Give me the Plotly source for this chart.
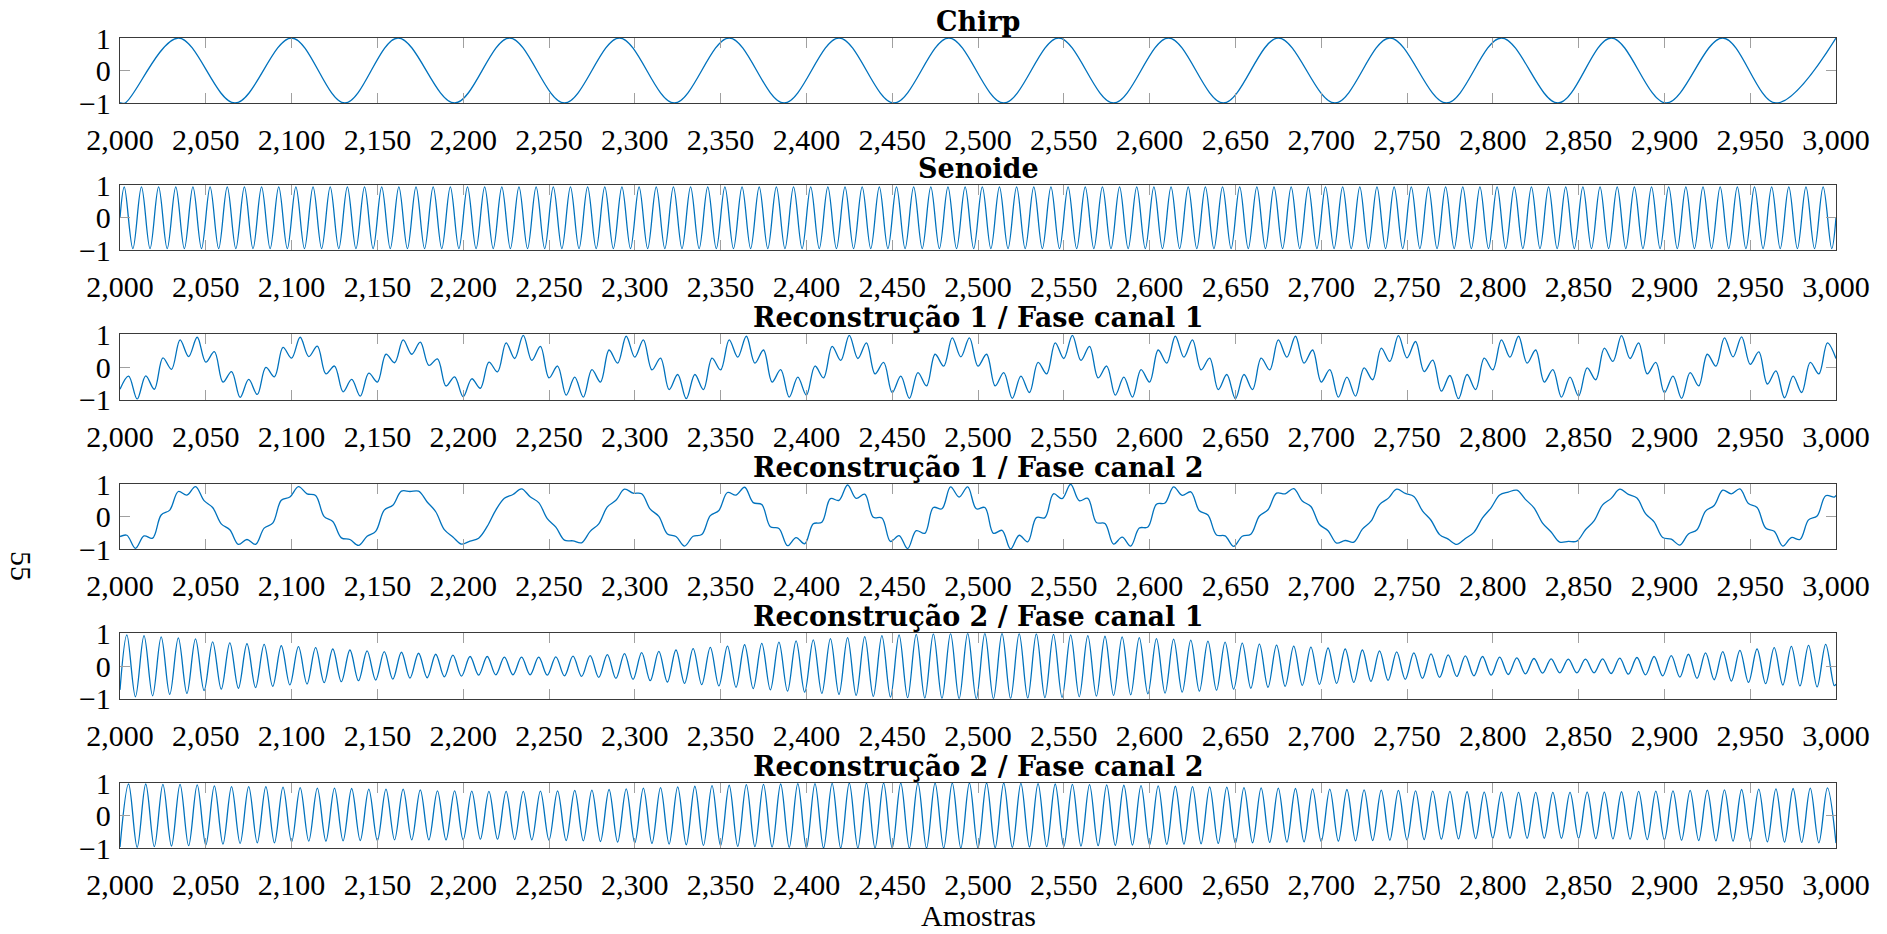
import numpy as np
import plotly.graph_objects as go

# ---------------- data (read / estimated from the picture) ----------------
titles = ["Chirp", "Senoide", "Reconstrução 1 / Fase canal 1", "Reconstrução 1 / Fase canal 2",
          "Reconstrução 2 / Fase canal 1", "Reconstrução 2 / Fase canal 2"]
x_label = "Amostras"
page_number = "55"
x_ticks = list(range(2000, 3001, 50))
y_ticks = [-1, 0, 1]

# Chirp: turning points (sample, value)
chirp_x = [2000, 2003, 2034, 2067, 2100, 2131, 2162, 2195, 2227, 2259, 2291, 2323, 2355, 2387, 2419, 2451,
           2483, 2515, 2547, 2579, 2611, 2643, 2675, 2708, 2740, 2773, 2805, 2838, 2869, 2901, 2934, 2965, 3000]
chirp_y = [-0.99, -1, 1, -1, 1, -1, 1, -1, 1, -1, 1, -1, 1, -1, 1, -1,
           1, -1, 1, -1, 1, -1, 1, -1, 1, -1, 1, -1, 1, -1, 1, -1, 1]

# Senoide: crests at 2002.5 + 10k, troughs at 2007.5 + 10k (every cycle looks identical)
senoide_start, senoide_end = 0.0, 0.0
senoide_peaks = [0.95] * 100
senoide_troughs = [-0.95] * 100

# Reconstrucao 1 / canal 1: values every 5 samples, 2000 ... 3000
rec1c1_vals = [-0.68, -0.28, -0.98, -0.27, -0.68, 0.28, -0.07, 0.83, 0.32, 0.91,
               0.15, 0.47, -0.46, -0.14, -0.93, -0.38, -0.84, -0.01, -0.30, 0.60,
               0.27, 0.91, 0.32, 0.64, -0.21, 0.03, -0.76, -0.38, -0.89, -0.19,
               -0.46, 0.39, 0.13, 0.83, 0.39, 0.76, 0.05, 0.25, -0.58, -0.30,
               -0.91, -0.36, -0.65, 0.15, -0.15,
               0.74, 0.26, 0.97, 0.20, 0.63, -0.33, 0.03, -0.86, -0.31, -0.92,
               -0.08, -0.46, 0.52, 0.12, 0.94, 0.30, 0.83, -0.09, 0.27, -0.69,
               -0.23, -0.97, -0.23, -0.69, 0.27, -0.09, 0.83, 0.30, 0.94, 0.12,
               0.52, -0.46, -0.08, -0.92, -0.31, -0.86, 0.03, -0.33, 0.63, 0.20,
               0.97, 0.26, 0.74, -0.21, 0.14, -0.78, -0.28, -0.96, -0.17, -0.58,
               0.39, 0.03, 0.89, 0.31, 0.89, 0.03, 0.39, -0.58, -0.17, -0.96,
               -0.28, -0.78, 0.14, -0.21, 0.74, 0.26, 0.97, 0.20, 0.63, -0.33,
               0.03, -0.86, -0.31, -0.92, -0.08, -0.46, 0.52, 0.12, 0.94, 0.30,
               0.83, -0.09, 0.27, -0.69, -0.23, -0.97, -0.23, -0.69, 0.27, -0.09,
               0.83, 0.30, 0.94, 0.12, 0.52, -0.46, -0.08, -0.92, -0.31, -0.89,
               -0.03, -0.39, 0.58, 0.17, 0.96, 0.28, 0.78, -0.14, 0.21, -0.74,
               -0.26, -0.97, -0.23, -0.69, 0.27, -0.09, 0.83, 0.30, 0.94, 0.12,
               0.52, -0.46, -0.08, -0.92, -0.31, -0.89, -0.03, -0.39, 0.58, 0.17,
               0.96, 0.26, 0.74, -0.21, 0.14, -0.78, -0.28, -0.96, -0.17, -0.58,
               0.39, 0.03, 0.89, 0.31, 0.92, 0.08, 0.46, -0.52, -0.12, -0.94,
               -0.28, -0.78, 0.14, -0.21, 0.74, 0.26]

# Reconstrucao 1 / canal 2: value at 2000, then every 5 samples 2004 ... 2999, then value at 3000
rec1c2_start, rec1c2_end = -0.61, 0.65
rec1c2_vals = [-0.57, -0.97, -0.59, -0.66, 0.05, 0.20, 0.77, 0.66, 0.92, 0.49,
               0.28, -0.22, -0.40, -0.85, -0.70, -0.85, -0.35, -0.20, 0.50, 0.60,
               0.92, 0.70, 0.65, 0.00, -0.15, -0.65, -0.70, -0.88, -0.60, -0.45,
               0.20, 0.35, 0.78, 0.77, 0.78, 0.45, 0.15, -0.40, -0.62, -0.84,
               -0.75, -0.66, -0.30, 0.20,
               0.56, 0.68, 0.85, 0.61, 0.43, -0.06, -0.32, -0.72, -0.74, -0.80,
               -0.45, -0.22, 0.30, 0.50, 0.84, 0.72, 0.70, 0.23, 0.01, -0.53,
               -0.61, -0.90, -0.60, -0.55, 0.03, 0.19, 0.74, 0.66, 0.90, 0.43,
               0.37, -0.31, -0.36, -0.89, -0.64, -0.83, -0.22, -0.17, 0.55, 0.50,
               0.97, 0.56, 0.69, -0.02, -0.04, -0.76, -0.58, -0.98, -0.43, -0.51,
               0.28, 0.24, 0.91, 0.60, 0.91, 0.24, 0.28, -0.51, -0.42, -0.99,
               -0.57, -0.77, -0.03, -0.03, 0.70, 0.55, 0.99, 0.49, 0.56, -0.18,
               -0.21, -0.84, -0.63, -0.90, -0.35, -0.32, 0.38, 0.42, 0.91, 0.65,
               0.76, 0.18, 0.05, -0.56, -0.59, -0.91, -0.60, -0.54, 0.02, 0.21,
               0.72, 0.70, 0.86, 0.48, 0.31, -0.24, -0.43, -0.81, -0.73, -0.78,
               -0.38, -0.14, 0.37, 0.56, 0.84, 0.71, 0.62, 0.18, -0.11, -0.55,
               -0.69, -0.85, -0.67, -0.48, -0.04, 0.27, 0.66, 0.75, 0.81, 0.53,
               0.27, -0.20, -0.47, -0.78, -0.76, -0.75, -0.40, -0.13, 0.36, 0.56,
               0.84, 0.68, 0.57, 0.09, -0.16, -0.64, -0.69, -0.87, -0.53, -0.40,
               0.17, 0.34, 0.81, 0.70, 0.85, 0.40, 0.28, -0.35, -0.45, -0.90,
               -0.64, -0.70, -0.10, 0.02, 0.64, 0.60]

# Reconstrucao 2 / canal 1: crests at 2004 + 10k, troughs at 2009 + 10k
rec2c1_start, rec2c1_end = -0.73, -0.55
rec2c1_peaks = [0.95, 0.93, 0.89, 0.86, 0.83, 0.74, 0.71, 0.68, 0.66, 0.62,
                0.59, 0.56, 0.52, 0.49, 0.46, 0.44, 0.42, 0.39, 0.36, 0.33,
                0.29, 0.29, 0.27, 0.27, 0.27, 0.28, 0.30, 0.32, 0.35, 0.38,
                0.41, 0.45, 0.49, 0.53, 0.57, 0.61, 0.65, 0.69, 0.73, 0.77,
                0.80, 0.84, 0.87, 0.90, 0.93, 0.95, 0.97, 0.98, 0.99, 1.00,
                1.00, 1.00, 0.99, 0.98, 0.97, 0.95, 0.93, 0.91, 0.89, 0.87,
                0.84, 0.82, 0.79, 0.76, 0.73, 0.70, 0.67, 0.64, 0.61, 0.58,
                0.55, 0.52, 0.49, 0.46, 0.43, 0.40, 0.37, 0.34, 0.31, 0.29,
                0.27, 0.25, 0.23, 0.22, 0.21, 0.21, 0.22, 0.24, 0.26, 0.29,
                0.32, 0.36, 0.40, 0.44, 0.48, 0.52, 0.56, 0.60, 0.63, 0.66]
rec2c1_troughs = [-0.94, -0.91, -0.87, -0.84, -0.75, -0.71, -0.68, -0.66, -0.62, -0.58,
                  -0.55, -0.51, -0.48, -0.45, -0.43, -0.40, -0.37, -0.36, -0.33, -0.31,
                  -0.28, -0.27, -0.27, -0.27, -0.28, -0.30, -0.32, -0.35, -0.38, -0.41,
                  -0.45, -0.49, -0.53, -0.57, -0.61, -0.65, -0.69, -0.73, -0.77, -0.80,
                  -0.84, -0.87, -0.90, -0.93, -0.95, -0.97, -0.98, -0.99, -1.00, -1.00,
                  -1.00, -0.99, -0.98, -0.97, -0.96, -0.94, -0.92, -0.90, -0.88, -0.85,
                  -0.83, -0.80, -0.77, -0.74, -0.71, -0.68, -0.65, -0.62, -0.59, -0.56,
                  -0.53, -0.50, -0.47, -0.44, -0.41, -0.38, -0.35, -0.32, -0.30, -0.28,
                  -0.26, -0.24, -0.22, -0.21, -0.21, -0.21, -0.23, -0.25, -0.27, -0.30,
                  -0.34, -0.38, -0.42, -0.46, -0.50, -0.54, -0.58, -0.61, -0.64, -0.60]

# Reconstrucao 2 / canal 2: value at 2000, crests at 2005 + 10k, troughs at 2010 + 10k
rec2c2_start = -0.97
rec2c2_peaks = [0.97, 0.97, 0.96, 0.96, 0.94, 0.91, 0.89, 0.89, 0.89, 0.87,
                0.86, 0.84, 0.84, 0.83, 0.81, 0.81, 0.81, 0.79, 0.76, 0.76,
                0.75, 0.74, 0.74, 0.74, 0.75, 0.76, 0.77, 0.78, 0.80, 0.82,
                0.84, 0.86, 0.88, 0.90, 0.92, 0.93, 0.95, 0.96, 0.97, 0.98,
                0.98, 0.99, 1.00, 1.00, 1.00, 1.00, 1.00, 1.00, 1.00, 1.00,
                1.00, 1.00, 0.99, 0.98, 0.97, 0.96, 0.95, 0.94, 0.93, 0.92,
                0.91, 0.90, 0.89, 0.88, 0.87, 0.86, 0.85, 0.84, 0.83, 0.82,
                0.81, 0.80, 0.79, 0.78, 0.77, 0.76, 0.75, 0.74, 0.73, 0.72,
                0.72, 0.71, 0.71, 0.71, 0.71, 0.72, 0.72, 0.73, 0.74, 0.75,
                0.76, 0.77, 0.78, 0.79, 0.80, 0.81, 0.82, 0.83, 0.84, 0.85]
rec2c2_troughs = [-0.98, -0.96, -0.94, -0.93, -0.91, -0.88, -0.86, -0.84, -0.84, -0.81,
                  -0.79, -0.79, -0.78, -0.77, -0.77, -0.75, -0.75, -0.75, -0.75, -0.75,
                  -0.73, -0.73, -0.74, -0.75, -0.76, -0.77, -0.78, -0.80, -0.82, -0.84,
                  -0.86, -0.88, -0.90, -0.92, -0.93, -0.95, -0.96, -0.97, -0.98, -0.99,
                  -1.00, -1.00, -1.00, -1.00, -1.00, -1.00, -1.00, -1.00, -1.00, -1.00,
                  -0.99, -0.98, -0.97, -0.96, -0.95, -0.94, -0.93, -0.92, -0.91, -0.90,
                  -0.89, -0.88, -0.87, -0.86, -0.85, -0.84, -0.83, -0.82, -0.81, -0.80,
                  -0.79, -0.78, -0.77, -0.76, -0.75, -0.74, -0.73, -0.72, -0.71, -0.70,
                  -0.70, -0.70, -0.70, -0.70, -0.70, -0.71, -0.72, -0.73, -0.74, -0.75,
                  -0.76, -0.77, -0.78, -0.79, -0.80, -0.81, -0.82, -0.83, -0.84, -0.85]


def interleave(peaks, troughs):
    out = []
    for p, t in zip(peaks, troughs):
        out += [p, t]
    return out


def grid(first, n, step=5):
    return [first + step * k for k in range(n)]


series = []
series.append((chirp_x, chirp_y))
v = interleave(senoide_peaks, senoide_troughs)
series.append(([2000] + grid(2002.5, len(v)) + [3000], [senoide_start] + v + [senoide_end]))
series.append((grid(2000, len(rec1c1_vals)), rec1c1_vals))
series.append(([2000] + grid(2004, len(rec1c2_vals)) + [3000], [rec1c2_start] + rec1c2_vals + [rec1c2_end]))
v = interleave(rec2c1_peaks, rec2c1_troughs)
series.append(([2000] + grid(2004, len(v)) + [3000], [rec2c1_start] + v + [rec2c1_end]))
v = interleave(rec2c2_peaks, rec2c2_troughs)
series.append(([2000] + grid(2005, len(v)), [rec2c2_start] + v))

# ---------------- layout ----------------
W, H = 1887, 934
LEFT, RIGHT = 120, 1836
PANELS = [(38, 103), (185.3, 250.3), (334.3, 399.7), (484, 549.3), (633.3, 698.7), (783, 848)]
FONT = "Liberation Serif"
TITLE_FONT = "DejaVu Serif"
LINE = "#0072BD"

fig = go.Figure()
layout = dict(template="none", width=W, height=H, margin=dict(l=0, r=0, t=0, b=0, pad=0),
              paper_bgcolor="white", plot_bgcolor="white", showlegend=False,
              font=dict(family=FONT, size=30, color="black"))
annotations = []
for i, ((xs, ys), (top, bot)) in enumerate(zip(series, PANELS), start=1):
    sfx = "" if i == 1 else str(i)
    fig.add_trace(go.Scatter(x=xs, y=ys, mode="lines",
                             line=dict(color=LINE, width=1.3, shape="spline", smoothing=1.0),
                             xaxis="x" + sfx, yaxis="y" + sfx, hoverinfo="skip"))
    common = dict(showline=True, linecolor="#3a3a3a", linewidth=1.3, mirror="allticks", ticks="inside",
                  ticklen=10, tickwidth=1.1, tickcolor="#a0a0a0", showgrid=False, zeroline=False,
                  automargin=False, tickfont=dict(family=FONT, size=30, color="black"))
    layout["xaxis" + sfx] = dict(domain=[LEFT / W, RIGHT / W], range=[2000, 3000], tickvals=x_ticks,
                                 tickformat=",d", anchor="y" + sfx, ticklabelstandoff=10, **common)
    layout["yaxis" + sfx] = dict(domain=[1 - bot / H, 1 - top / H], range=[-1, 1], tickvals=y_ticks,
                                 anchor="x" + sfx, ticklabelstandoff=2, **common)
    annotations.append(dict(text="<b>" + titles[i - 1] + "</b>", x=(LEFT + RIGHT) / 2 / W, y=1 - top / H,
                            xref="paper", yref="paper", xanchor="center", yanchor="bottom", showarrow=False,
                            yshift=-1, font=dict(family=TITLE_FONT, size=27, color="black")))

annotations.append(dict(text=x_label, x=(LEFT + RIGHT) / 2 / W, y=0, xref="paper", yref="paper",
                        xanchor="center", yanchor="bottom", showarrow=False,
                        font=dict(family=FONT, size=30, color="black")))
annotations.append(dict(text=page_number, x=22 / W, y=1 - 566 / H, xref="paper", yref="paper", textangle=90,
                        xanchor="center", yanchor="middle", showarrow=False,
                        font=dict(family=FONT, size=30, color="black")))
layout["annotations"] = annotations
fig.update_layout(**layout)
fig.write_html("out.html")
